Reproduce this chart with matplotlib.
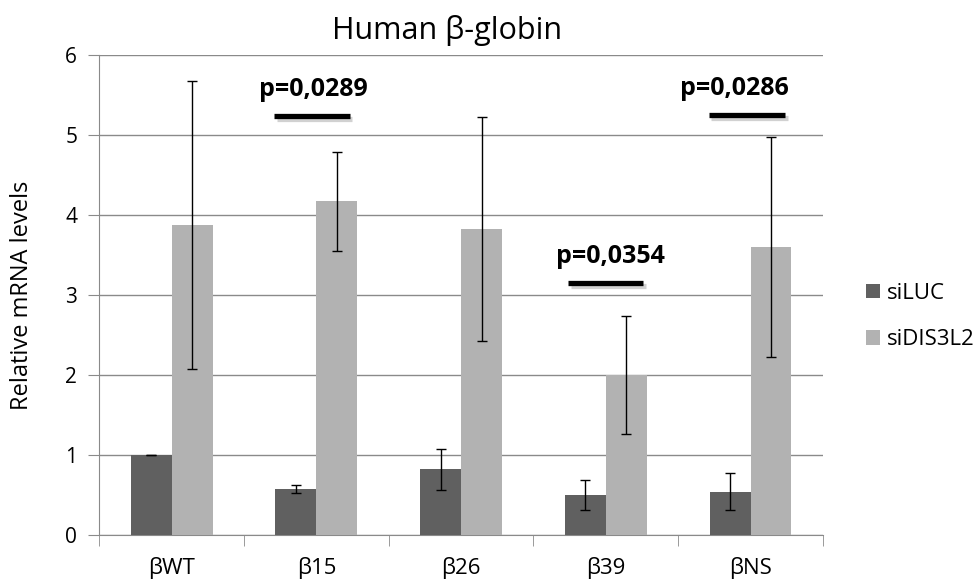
import matplotlib
matplotlib.use('Agg')
from matplotlib import pyplot as plt
import matplotlib.patheffects as pe
import numpy as np

plt.rcParams['font.family'] = ['Open Sans', 'DejaVu Sans']

groupes = ['βWT', 'β15', 'β26', 'β39', 'βNS']
siLUC = [1.0, 0.57, 0.82, 0.50, 0.54]
siLUC_err = [0.0, 0.05, 0.26, 0.19, 0.23]
siDIS3L2 = [3.88, 4.17, 3.83, 2.00, 3.60]
siDIS3L2_err = [1.80, 0.62, 1.40, 0.74, 1.37]

# p-values : groupe, debut/fin du trait (relatif au groupe), hauteur du trait, texte
p_groupe = [1, 3, 4]
p_debut = [-0.29, -0.26, -0.29]
p_fin = [0.23, 0.26, 0.24]
p_hauteur = [5.24, 3.15, 5.25]
p_texte = ['p=0,0289', 'p=0,0354', 'p=0,0286']
p_decal = [-0.02, 0.03, -0.11]

x = np.arange(len(groupes))
w = 0.283
gris = '#8a8a8a'

fig = plt.figure(figsize=(9.79, 5.85), dpi=100)
ax = fig.add_axes([0.1015, 0.0855, 0.739, 0.8205])

ax.bar(x - w/2, siLUC, w, color='#606060', label='siLUC', zorder=3,
       yerr=siLUC_err, capsize=3.6, error_kw=dict(elinewidth=1, capthick=1, ecolor='black'))
ax.bar(x + w/2, siDIS3L2, w, color='#b2b2b2', label='siDIS3L2', zorder=3,
       yerr=siDIS3L2_err, capsize=3.6, error_kw=dict(elinewidth=1, capthick=1, ecolor='black'))

for i in range(len(p_groupe)):
    g = p_groupe[i]
    h = p_hauteur[i]
    ax.plot([g + p_debut[i], g + p_fin[i]], [h, h], color='black', lw=3.8, solid_capstyle='butt', zorder=4,
            path_effects=[pe.SimpleLineShadow(offset=(2, -2.5), alpha=0.18), pe.Normal()])
    ax.text(g + p_decal[i], h + 0.33, p_texte[i], ha='center', va='center', fontsize=18, fontweight='bold')

ax.set_xlim(-0.5, len(groupes) - 0.5)
ax.set_ylim(0, 6)
ax.set_yticks(range(7))
ax.yaxis.grid(True, color=gris, lw=1)
ax.set_axisbelow(True)

ax.set_xticks(x)
ax.set_xticklabels(groupes, fontsize=16)
ax.set_xticks(np.arange(-0.5, len(groupes)), minor=True)
ax.tick_params(axis='x', which='major', length=0, pad=16)
ax.tick_params(axis='x', which='minor', length=8, color=gris, direction='out')
ax.tick_params(axis='y', length=8, color=gris, labelsize=15, direction='out', pad=8)

for s in ['top', 'right']:
    ax.spines[s].set_visible(False)
ax.spines['left'].set_color(gris)
ax.spines['bottom'].set_color(gris)

ax.set_ylabel('Relative mRNA levels', fontsize=17)
ax.yaxis.set_label_coords(-0.09, 0.5)
fig.text(447 / 979, 1 - 30 / 585, 'Human β-globin', ha='center', va='center', fontsize=22)

ax.legend(loc='center left', bbox_to_anchor=(1.047, 0.455), frameon=False, fontsize=16,
          handlelength=0.64, handleheight=0.64, handletextpad=0.3, labelspacing=1.15,
          borderaxespad=0)

plt.savefig('out.png', dpi=100)
